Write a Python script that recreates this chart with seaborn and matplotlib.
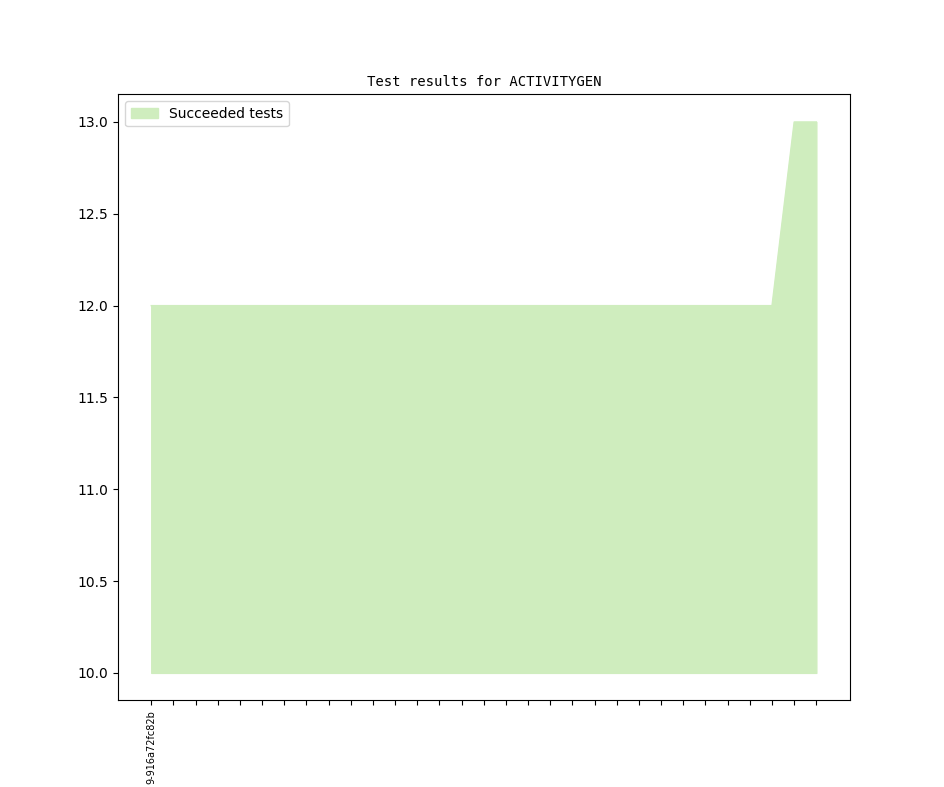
import matplotlib
matplotlib.use("Agg")
import matplotlib.pyplot as plt
import seaborn as sns
import numpy as np

# data
commits = ["9-916a72fc82b"] + [""] * 30
succeeded = [12] * 29 + [13, 13]
baseline = 10

fig, ax = plt.subplots(figsize=(9.44, 7.87), dpi=100)

x = np.arange(len(commits))
ax.fill_between(x, baseline, succeeded, facecolor="#cfedbe", edgecolor="#cfedbe",
                linewidth=1.0, label="Succeeded tests")
sns.lineplot(x=x, y=succeeded, ax=ax, color="#cfedbe", linewidth=1.0, legend=False)

ax.set_xticks(x)
ax.set_xticklabels(commits, rotation=90, fontsize=7)
ax.set_title("Test results for ACTIVITYGEN", family="DejaVu Sans Mono", fontsize=10)
ax.legend(loc="upper left")

fig.savefig("out.png", dpi=100)
